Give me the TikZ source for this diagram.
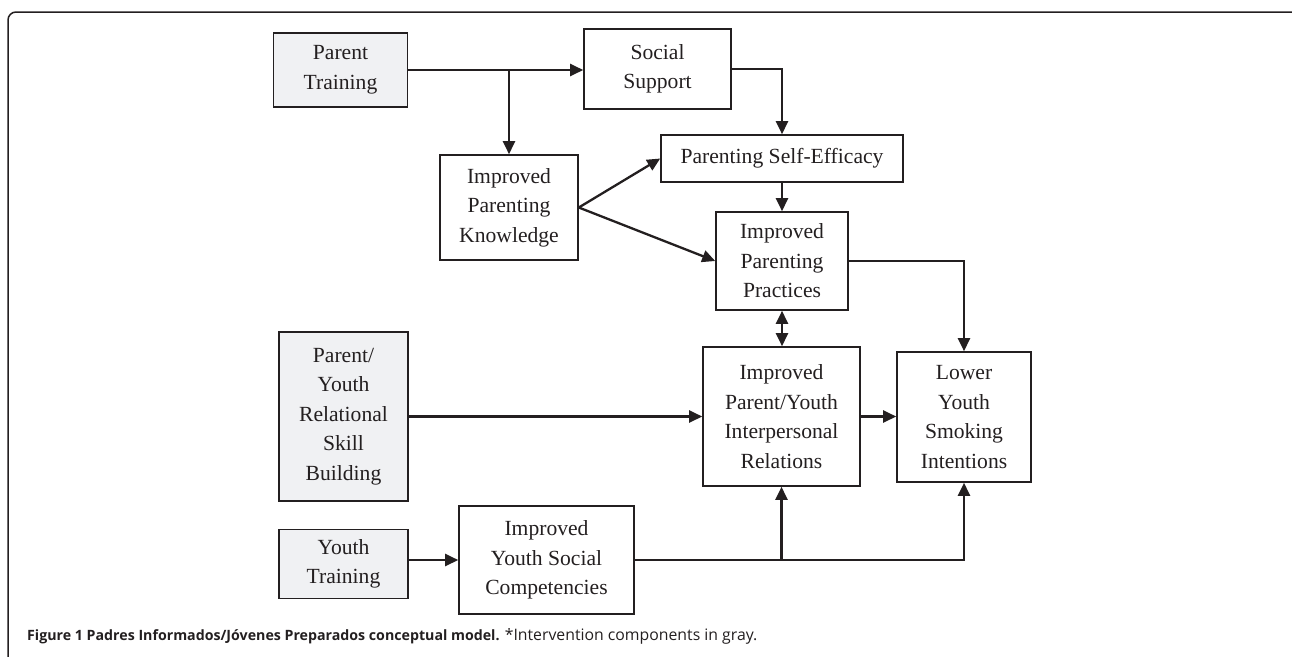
\documentclass[tikz,border=0pt]{standalone}
\usepackage{fontspec}
\setmainfont{Liberation Serif}
\newfontfamily\capfont{Open Sans}
\usetikzlibrary{arrows.meta}
\definecolor{boxgray}{RGB}{240,241,243}
\definecolor{ink}{RGB}{35,31,32}
\begin{document}
\begin{tikzpicture}[x=1pt,y=-1pt,
  box/.style={draw=ink,line width=1.6pt,inner sep=0pt,align=center,
    font=\fontsize{21.6}{29.5}\selectfont,text=ink},
  gbox/.style={box,fill=boxgray},
  tip/.tip={Triangle[length=13pt,width=12pt]},
  conn/.style={draw=ink,line width=2.3pt,-tip},
  biconn/.style={draw=ink,line width=2.3pt,tip-tip},
  ]
\useasboundingbox (0,0) rectangle (1292,656);
\begin{scope}
  \clip (0,0) rectangle (1292,656);
  \draw[line width=1.5pt,rounded corners=8pt,ink] (8,12) rectangle (1300,700);
\end{scope}

\node[gbox,minimum width=134pt,minimum height=74pt] (PT) at (340.5,70) {Parent\\Training};
\node[box,minimum width=147pt,minimum height=80pt] (SS) at (657.5,69) {Social\\Support};
\node[box,minimum width=138pt,minimum height=105pt] (IPK) at (509,207.5) {Improved\\Parenting\\Knowledge};
\node[box,minimum width=242pt,minimum height=47pt] (PSE) at (782,158.5) {Parenting Self-Efficacy};
\node[box,minimum width=132pt,minimum height=98pt] (IPP) at (782,261) {Improved\\Parenting\\Practices};
\node[gbox,minimum width=129pt,minimum height=169pt] (PYR) at (343.5,416.5) {Parent/\\Youth\\Relational\\Skill\\Building};
\node[box,minimum width=157pt,minimum height=139pt] (IPYR) at (781.5,416.5) {Improved\\Parent/Youth\\Interpersonal\\Relations};
\node[box,minimum width=134pt,minimum height=130pt] (LYSI) at (964,417) {Lower\\Youth\\Smoking\\Intentions};
\node[gbox,minimum width=129pt,minimum height=69pt] (YT) at (343.5,564) {Youth\\Training};
\node[box,minimum width=175pt,minimum height=108pt] (IYSC) at (546.5,560) {Improved\\Youth Social\\Competencies};

\draw[conn] (PT.east) -- (PT.east -| SS.west);
\coordinate (br1) at (IPK.north |- PT.east);
\draw[conn] (br1) -- (IPK.north);
\draw[conn] (SS.east) -| (PSE.north);
\draw[conn] (IPK.east) -- (PSE.west);
\draw[conn] (IPK.east) -- (IPP.west);
\draw[conn] (PSE.south) -- (IPP.north);
\draw[biconn] (IPP.south) -- (IPP.south |- IPYR.north);
\draw[conn] (IPP.east) -| (LYSI.north);
\draw[conn] (PYR.east) -- (PYR.east -| IPYR.west);
\draw[conn] (IPYR.east) -- (IPYR.east -| LYSI.west);
\draw[conn] (YT.east |- IYSC.west) -- (IYSC.west);
\draw[conn] (IYSC.east) -| (LYSI.south);
\coordinate (br2) at (IPYR.south |- IYSC.east);
\draw[conn] (br2) -- (IPYR.south);

\node[anchor=base west,inner sep=0pt,text=ink,font=\capfont\fontsize{15}{18}\selectfont] (cap) at (27,640)
  {{\bfseries\fontsize{14.2}{18}\selectfont Figure 1 Padres Informados/Jóvenes Preparados conceptual model.} {\fontsize{15.8}{18}\selectfont *Intervention components in gray.}};
\end{tikzpicture}
\end{document}
